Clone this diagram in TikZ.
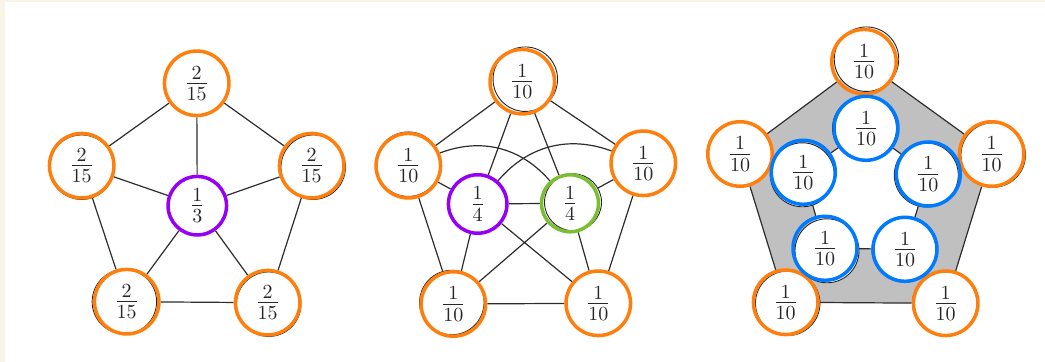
\documentclass[tikz,border=0pt]{standalone}
\usetikzlibrary{backgrounds}
\definecolor{cOrange}{RGB}{255,127,14}
\definecolor{cPurple}{RGB}{150,0,245}
\definecolor{cGreen}{RGB}{122,190,52}
\definecolor{cBlue}{RGB}{0,122,255}
\definecolor{cGray}{RGB}{192,192,192}
\definecolor{cEdge}{RGB}{45,45,45}
\definecolor{cBeige}{RGB}{248,245,232}
\pgfdeclarelayer{pagebg}
\pgfdeclarelayer{edges}
\pgfsetlayers{pagebg,edges,main}
\newcommand\vtx[7]{%
  \node[#6,blk] (#1s) at ([shift={(#4,#5)}]#2,#3) {};
  \node[#6] (#1) at (#2,#3) {#7};}
\begin{document}
\begin{tikzpicture}[x=0.5pt,y=-0.5pt,
  ring/.style={circle, inner sep=0pt, fill=none, text=black!85, font=\fontsize{14}{17}\selectfont},
  orng/.style={ring, draw=cOrange, line width=1.75pt, minimum size=32.25pt},
  blu/.style={ring, draw=cBlue, line width=1.75pt, minimum size=32pt},
  purp/.style={ring, draw=cPurple, line width=1.75pt, minimum size=29.25pt},
  grn/.style={ring, draw=cGreen, line width=1.75pt, minimum size=28.5pt},
  blk/.style={draw=black!85, line width=0.45pt, fill=white},
  edge/.style={draw=cEdge, line width=0.6pt}]
\begin{pgfonlayer}{pagebg}
  \fill[cBeige] (0,0) rectangle (1045,362);
  \fill[white] (5,2) rectangle (1045,362);
\end{pgfonlayer}
\useasboundingbox (0,0) rectangle (1045,362);

% ---------- panel 1 ----------
\vtx{a1}{196.7}{83.3}{0}{0}{orng}{$\frac{2}{15}$}
\vtx{a2}{81.7}{165.7}{0}{1.5}{orng}{$\frac{2}{15}$}
\vtx{a3}{311.7}{165.7}{1.5}{1.5}{orng}{$\frac{2}{15}$}
\vtx{a4}{126.7}{301.7}{-2.3}{0}{orng}{$\frac{2}{15}$}
\vtx{a5}{267.7}{302.7}{1}{1.5}{orng}{$\frac{2}{15}$}
\vtx{ac}{197.3}{205.7}{0}{0}{purp}{$\frac{1}{3}$}

% ---------- panel 2 ----------
\vtx{b1}{522.3}{81.7}{3}{-2.5}{orng}{$\frac{1}{10}$}
\vtx{b2}{408.3}{165.7}{0}{-1.5}{orng}{$\frac{1}{10}$}
\vtx{b3}{643.3}{163.3}{0.5}{0.5}{orng}{$\frac{1}{10}$}
\vtx{b4}{453.3}{304}{-1.5}{-1.5}{orng}{$\frac{1}{10}$}
\vtx{b5}{598.3}{303.3}{0}{0}{orng}{$\frac{1}{10}$}
\vtx{bp}{477.7}{204}{0}{0}{purp}{$\frac{1}{4}$}
\vtx{bg}{570}{203.3}{3}{-1}{grn}{$\frac{1}{4}$}

% ---------- panel 3 ----------
\vtx{c1}{864}{61.7}{2.5}{-2.5}{orng}{$\frac{1}{10}$}
\vtx{c2}{740}{154}{0}{0.5}{orng}{$\frac{1}{10}$}
\vtx{c3}{991.7}{154}{1.5}{1}{orng}{$\frac{1}{10}$}
\vtx{c4}{785.7}{302.3}{2}{1}{orng}{$\frac{1}{10}$}
\vtx{c5}{945.7}{303.3}{-1}{0}{orng}{$\frac{1}{10}$}
\vtx{d1}{866}{128.3}{-1.5}{0}{blu}{$\frac{1}{10}$}
\vtx{d2}{803.3}{172.3}{-1}{2.5}{blu}{$\frac{1}{10}$}
\vtx{d3}{928.3}{174}{-2}{1}{blu}{$\frac{1}{10}$}
\vtx{d4}{825}{248.3}{2}{2.5}{blu}{$\frac{1}{10}$}
\vtx{d5}{905}{249.3}{-1}{0.5}{blu}{$\frac{1}{10}$}

\begin{pgfonlayer}{edges}
  % panel 1
  \draw[edge] (a1) -- (a2) (a1) -- (a3) (a2) -- (a4) (a3) -- (a5) (a4) -- (a5);
  \draw[edge] (ac) -- (a1) (ac) -- (a2) (ac) -- (a3) (ac) -- (a4) (ac) -- (a5);
  % panel 2
  \draw[edge] (b1) -- (b2) (b1) -- (b3) (b2) -- (b4) (b3) -- (b5) (b4) -- (b5);
  \draw[edge] (b1) -- (bp) (b1) -- (bg) (b2) -- (bp) (b3) -- (bg) (bp) -- (bg);
  \draw[edge] (bp) -- (b4) (bg) -- (b5) (bp) -- (b5) (bg) -- (b4);
  \draw[edge] (b2) to[bend left=35] (bg);
  \draw[edge] (b3) to[bend right=35] (bp);
  % panel 3
  \fill[cGray, even odd rule] (c1.center) -- (c3.center) -- (c5.center) -- (c4.center) -- (c2.center) -- cycle
     (d1.center) -- (d3.center) -- (d5.center) -- (d4.center) -- (d2.center) -- cycle;
  \draw[edge] (c1) -- (c3) (c3) -- (c5) (c5) -- (c4) (c4) -- (c2) (c2) -- (c1);
  \draw[edge] (d1) -- (d3) (d3) -- (d5) (d5) -- (d4) (d4) -- (d2) (d2) -- (d1);
\end{pgfonlayer}
\end{tikzpicture}
\end{document}
